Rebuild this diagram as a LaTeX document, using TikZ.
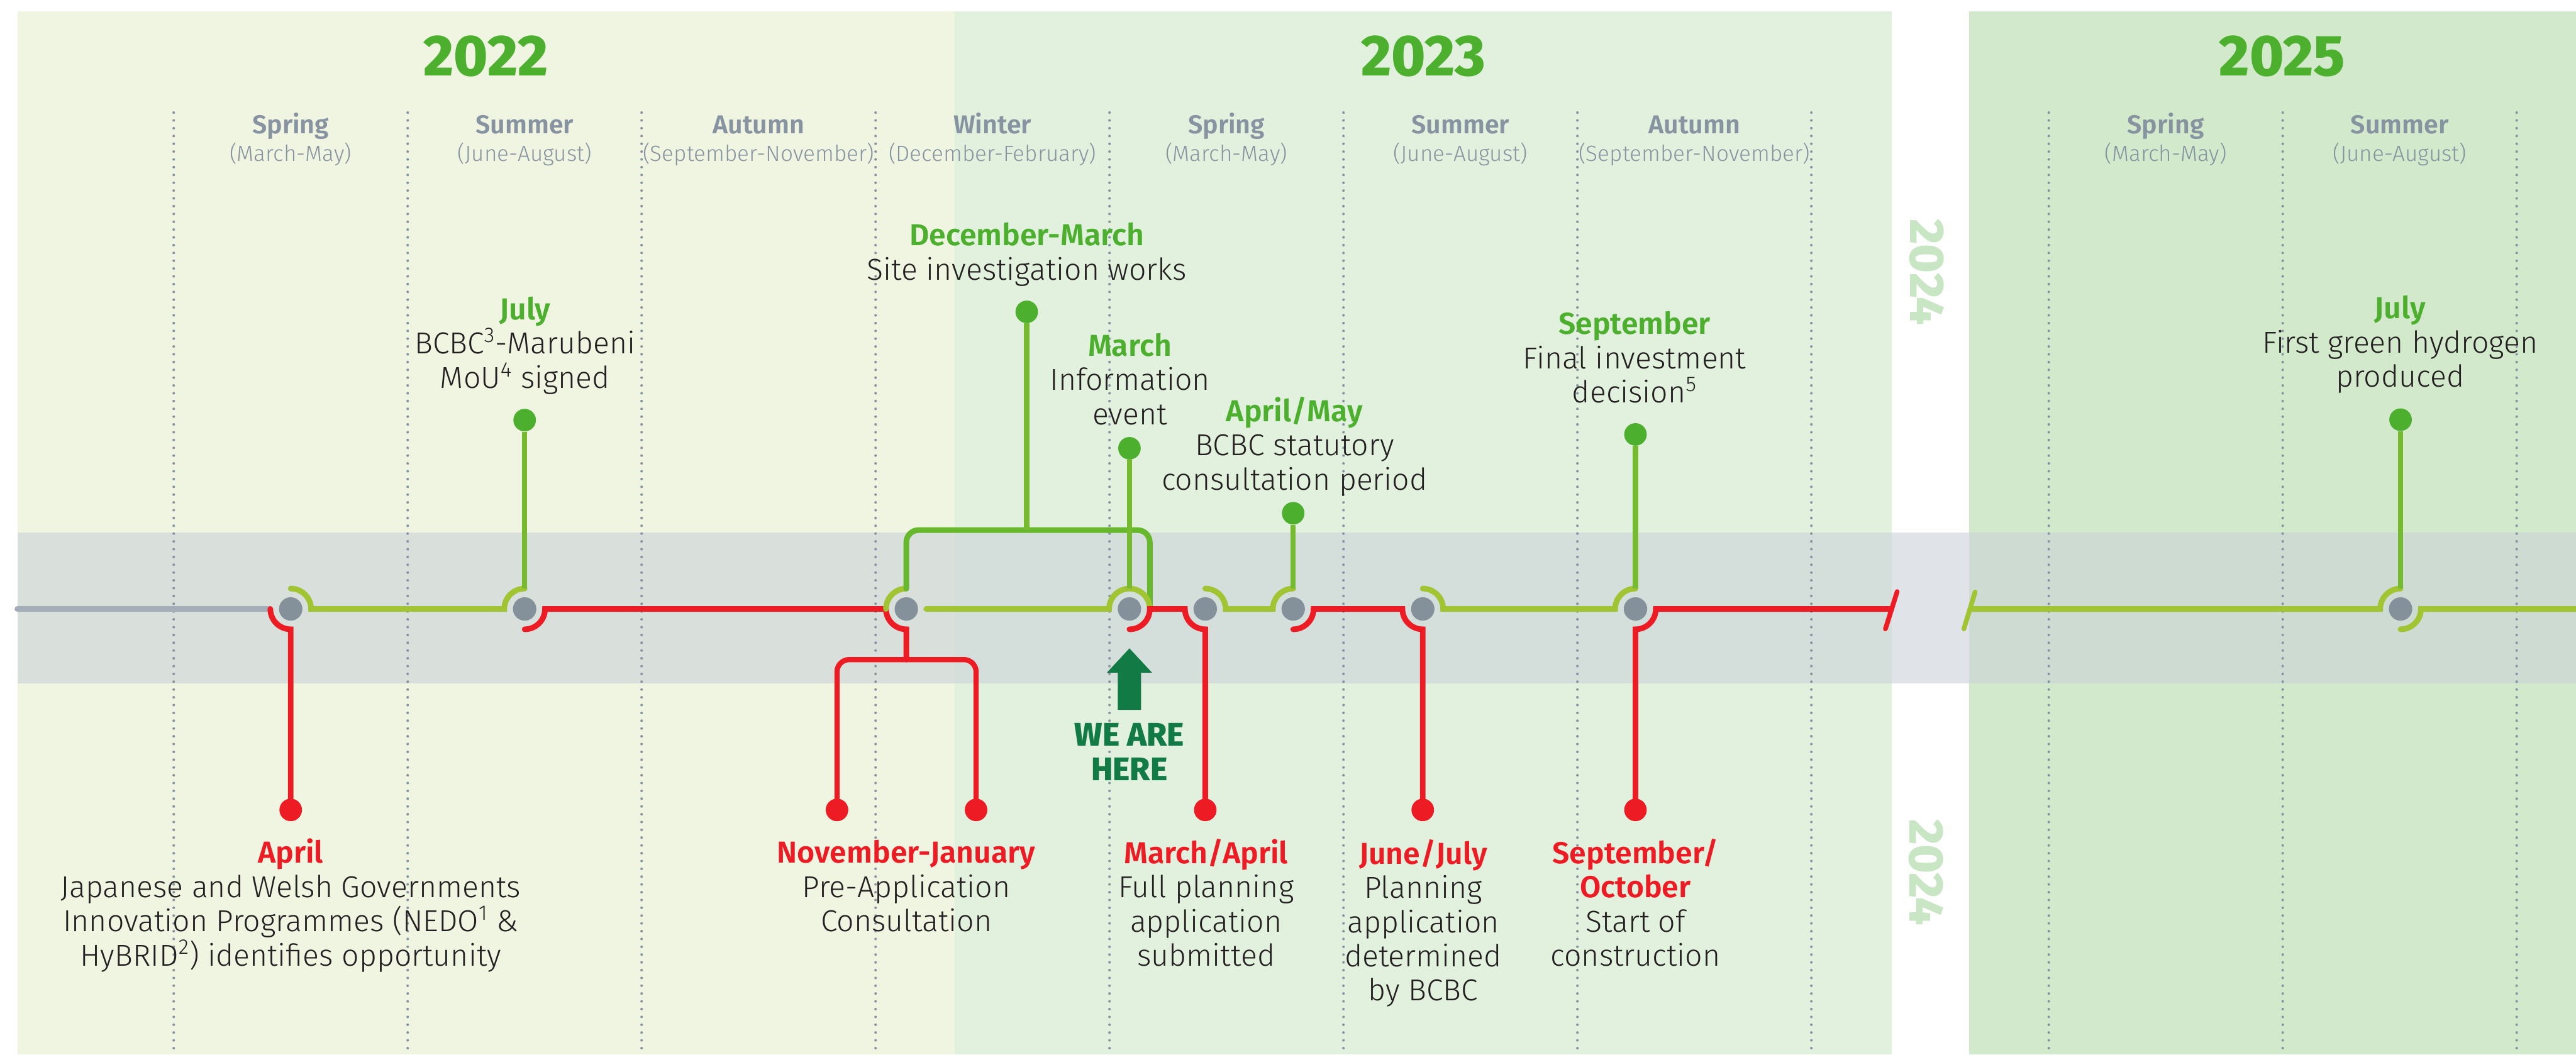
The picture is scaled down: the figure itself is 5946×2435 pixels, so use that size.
\documentclass[tikz,border=0pt]{standalone}
\usepackage{fontspec}
\setmainfont{Fira Sans}[UprightFont=* Light, BoldFont=* SemiBold]
\newfontfamily\heavy{Fira Sans}[UprightFont=* ExtraBold]
\definecolor{panelA}{RGB}{240,245,225}
\definecolor{panelB}{RGB}{226,241,222}
\definecolor{panelC}{RGB}{210,234,203}
\definecolor{bandgrey}{RGB}{203,210,217}
\definecolor{gridgrey}{RGB}{135,147,160}
\definecolor{hubgrey}{RGB}{132,144,154}
\definecolor{startgrey}{RGB}{163,174,184}
\definecolor{tlred}{RGB}{237,28,36}
\definecolor{tllime}{RGB}{160,196,50}
\definecolor{stemgreen}{RGB}{118,186,47}
\definecolor{bargreen}{RGB}{103,184,45}
\definecolor{titlegreen}{RGB}{76,175,46}
\definecolor{yearpale}{RGB}{200,230,195}
\definecolor{herecol}{RGB}{17,122,69}
\definecolor{bodytext}{RGB}{35,31,32}

\begin{document}
\begin{tikzpicture}[x=0.1mm, y=0.1mm]
	\tikzstyle{every node}+=[inner sep=0pt]
	\tikzstyle{tl}=[line width=1.3mm, line cap=round]
	\tikzstyle{redtl}=[tl, draw=tlred]
	\tikzstyle{limetl}=[tl, draw=tllime]
	\tikzstyle{greenstem}=[line width=1.2mm, draw=stemgreen]
	\tikzstyle{hub}=[circle, fill=hubgrey, minimum size=5.4mm]
	\tikzstyle{gdot}=[circle, fill=titlegreen, minimum size=5.2mm]
	\tikzstyle{rdot}=[circle, fill=tlred, minimum size=5.2mm]
	\tikzstyle{gridline}=[draw=gridgrey, line width=0.6mm, line cap=round, dash pattern=on 0pt off 1.8mm]
	\tikzstyle{season}=[font=\fontsize{17}{20}\selectfont\bfseries, text=gridgrey, anchor=base]
	\tikzstyle{months}=[font=\fontsize{14.5}{17}\selectfont, text=gridgrey, anchor=base]
	\tikzstyle{year}=[font=\heavy\fontsize{38}{40}\selectfont, text=titlegreen, anchor=base]
	\tikzstyle{yearside}=[font=\heavy\fontsize{32}{34}\selectfont, text=yearpale, rotate=-90]
	\tikzstyle{event}=[font=\fontsize{19.9}{22.5}\selectfont, text=bodytext, align=center, anchor=base]
	\tikzstyle{here}=[font=\heavy\fontsize{21.5}{22.8}\selectfont, text=herecol, align=center, anchor=base]
	\useasboundingbox (0,0) rectangle (5946,-2435);
	\fill [panelA] (40,-26) rectangle (2203,-2435);
	\fill [panelB] (2203,-26) rectangle (4366,-2435);
	\fill [panelC] (4545,-26) rectangle (5946,-2435);
	\fill [bandgrey, opacity=0.6] (40,-1230) rectangle (5946,-1578);
	\draw [gridline] (401,-260) -- (401,-2435);
	\draw [gridline] (941,-260) -- (941,-2435);
	\draw [gridline] (1481,-260) -- (1481,-2435);
	\draw [gridline] (2021,-260) -- (2021,-2435);
	\draw [gridline] (2561,-260) -- (2561,-2435);
	\draw [gridline] (3101,-260) -- (3101,-2435);
	\draw [gridline] (3641,-260) -- (3641,-2435);
	\draw [gridline] (4181,-260) -- (4181,-2435);
	\draw [gridline] (4729,-260) -- (4729,-2435);
	\draw [gridline] (5269,-260) -- (5269,-2435);
	\draw [gridline] (5809,-260) -- (5809,-2435);
	\node [year] (y22) at (1122,-175) {2022};
	\node [year] (y23) at (3285,-175) {2023};
	\node [year] (y25) at (5268,-175) {2025};
	\node [yearside] (y24top) at (4448,-628) {2024};
	\node [yearside] (y24bot) at (4446,-2014) {2024};
	\node [season] (spr22) at (671,-308) {Spring};
	\node [months] at (671,-372) {(March-May)};
	\node [season] (sum22) at (1211,-308) {Summer};
	\node [months] at (1211,-372) {(June-August)};
	\node [season] (aut22) at (1751,-308) {Autumn};
	\node [months] at (1751,-372) {(September-November)};
	\node [season] (win22) at (2291,-308) {Winter};
	\node [months] at (2291,-372) {(December-February)};
	\node [season] (spr23) at (2831,-308) {Spring};
	\node [months] at (2831,-372) {(March-May)};
	\node [season] (sum23) at (3371,-308) {Summer};
	\node [months] at (3371,-372) {(June-August)};
	\node [season] (aut23) at (3911,-308) {Autumn};
	\node [months] at (3911,-372) {(September-November)};
	\node [season] (spr25) at (4999,-308) {Spring};
	\node [months] at (4999,-372) {(March-May)};
	\node [season] (sum25) at (5539,-308) {Summer};
	\node [months] at (5539,-372) {(June-August)};
	\node [hub] (nA) at (671,-1406) {};
	\node [hub] (nB) at (1211,-1406) {};
	\node [hub] (nC) at (2092,-1406) {};
	\node [hub] (nD) at (2607,-1406) {};
	\node [hub] (nE) at (2782,-1406) {};
	\node [hub] (nF) at (2985,-1406) {};
	\node [hub] (nG) at (3284,-1406) {};
	\node [hub] (nH) at (3775,-1406) {};
	\node [hub] (nJ) at (5541,-1406) {};
	\node [rdot] (aprDot) at (671,-1870) {};
	\node [gdot] (julDot) at (1211,-970) {};
	\node [rdot] (novDot) at (1932,-1870) {};
	\node [rdot] (janDot) at (2253,-1870) {};
	\node [gdot] (decDot) at (2370,-720) {};
	\node [gdot] (marDot) at (2607,-1035) {};
	\node [rdot] (marAprDot) at (2782,-1870) {};
	\node [gdot] (aprMayDot) at (2985,-1185) {};
	\node [rdot] (junJulDot) at (3284,-1870) {};
	\node [gdot] (sepDot) at (3775,-1003) {};
	\node [rdot] (sepOctDot) at (3775,-1870) {};
	\node [gdot] (julyDot) at (5541,-969) {};
	\coordinate (tlStart) at (40,-1406);
	\coordinate (tlEnd) at (5946,-1406);
	\coordinate (novBar) at (1932,-1523);
	\coordinate (janBar) at (2253,-1523);
	\coordinate (dmLeft) at (2092,-1224);
	\coordinate (dmRight) at (2654,-1224);
	\coordinate (brkRed) at (4366,-1406);
	\coordinate (brkLime) at (4548,-1406);
	\draw [tl, draw=startgrey] (tlStart) -- ([xshift=-4.9mm]nA.center);
	\draw [redtl] ([xshift=-4.7mm]nA.center) arc (180:270:47) -- (aprDot);
	\draw [limetl] ([yshift=4.7mm]nA.center) arc (90:0:47) -- ([xshift=-4.7mm]nB.center) arc (180:90:47);
	\draw [greenstem] ([yshift=4.7mm]nB.center) -- (julDot);
	\draw [redtl] ([yshift=-4.7mm]nB.center) arc (270:360:47) -- ([xshift=-4.7mm]nC.center) arc (180:270:47) -- (nC |- novBar);
	\draw [redtl, line width=1.2mm, rounded corners=8] (novDot) -- (novBar) -- (janBar) -- (janDot);
	\draw [limetl] ([xshift=-4.7mm]nC.center) arc (180:90:47);
	\draw [tl, draw=bargreen, rounded corners=8] ([yshift=4.7mm]nC.center) -- (dmLeft) -- (dmRight) -- (nD -| dmRight);
	\draw [greenstem] (decDot) -- (decDot |- dmLeft);
	\draw [limetl] ([xshift=4.6mm]nC.center) -- ([xshift=-4.7mm]nD.center) arc (180:0:47);
	\draw [greenstem] ([yshift=4.7mm]nD.center) -- (marDot);
	\draw [redtl] ([yshift=-4.7mm]nD.center) arc (270:360:47) -- ([xshift=-4.7mm]nE.center) arc (180:270:47) -- (marAprDot);
	\draw [limetl] ([yshift=4.7mm]nE.center) arc (90:0:47) -- ([xshift=-4.7mm]nF.center) arc (180:90:47);
	\draw [greenstem] ([yshift=4.7mm]nF.center) -- (aprMayDot);
	\draw [redtl] ([yshift=-4.7mm]nF.center) arc (270:360:47) -- ([xshift=-4.7mm]nG.center) arc (180:270:47) -- (junJulDot);
	\draw [limetl] ([yshift=4.7mm]nG.center) arc (90:0:47) -- ([xshift=-4.7mm]nH.center) arc (180:90:47);
	\draw [greenstem] ([yshift=4.7mm]nH.center) -- (sepDot);
	\draw [redtl] (sepOctDot) -- ([yshift=-4.7mm]nH.center) arc (270:360:47) -- (brkRed);
	\draw [redtl, line width=1.1mm] ([shift={(13,40)}]brkRed) -- ([shift={(-14,-46)}]brkRed);
	\draw [limetl, line width=1.1mm] ([shift={(11,39)}]brkLime) -- ([shift={(-15,-46)}]brkLime);
	\draw [limetl] (brkLime) -- ([xshift=-4.7mm]nJ.center) arc (180:90:47);
	\draw [greenstem] ([yshift=4.7mm]nJ.center) -- (julyDot);
	\draw [limetl] ([yshift=-4.7mm]nJ.center) arc (270:360:47) -- (tlEnd);
	\fill [herecol] (2580,-1639) -- (2580,-1553) -- (2555,-1553) -- (2607,-1497) -- (2659,-1553) -- (2634,-1553) -- (2634,-1639) -- cycle;
	\node [here] (weAreHere) at (2607,-1802) {WE ARE\\HERE};
	\node [event] (txtApr) at (671,-2230) {\textbf{\color{tlred}April}\\Japanese and Welsh Governments\\Innovation Programmes (NEDO\textsuperscript{1} \&\\HyBRID\textsuperscript{2}) identifies opportunity};
	\node [event] (txtNovJan) at (2092,-2151) {\textbf{\color{tlred}November-January}\\Pre-Application\\Consultation};
	\node [event] (txtMarApr) at (2784,-2231) {\textbf{\color{tlred}March/April}\\Full planning\\application\\submitted};
	\node [event] (txtJunJul) at (3285,-2311) {\textbf{\color{tlred}June/July}\\Planning\\application\\determined\\by BCBC};
	\node [event] (txtSepOct) at (3775,-2231) {\textbf{\color{tlred}September/}\\\textbf{\color{tlred}October}\\Start of\\construction};
	\node [event] (txtJul) at (1212,-896) {\textbf{\color{titlegreen}July}\\BCBC\textsuperscript{3}-Marubeni\\MoU\textsuperscript{4} signed};
	\node [event] (txtDecMar) at (2370,-646) {\textbf{\color{titlegreen}December-March}\\Site investigation works};
	\node [event] (txtMar) at (2608,-980) {\textbf{\color{titlegreen}March}\\Information\\event};
	\node [event] (txtAprMay) at (2988,-1131) {\textbf{\color{titlegreen}April/May}\\BCBC statutory\\consultation period};
	\node [event] (txtSep) at (3773,-930) {\textbf{\color{titlegreen}September}\\Final investment\\decision\textsuperscript{5}};
	\node [event] (txtJuly) at (5540,-894) {\textbf{\color{titlegreen}July}\\First green hydrogen\\produced};
\end{tikzpicture}
\end{document}
